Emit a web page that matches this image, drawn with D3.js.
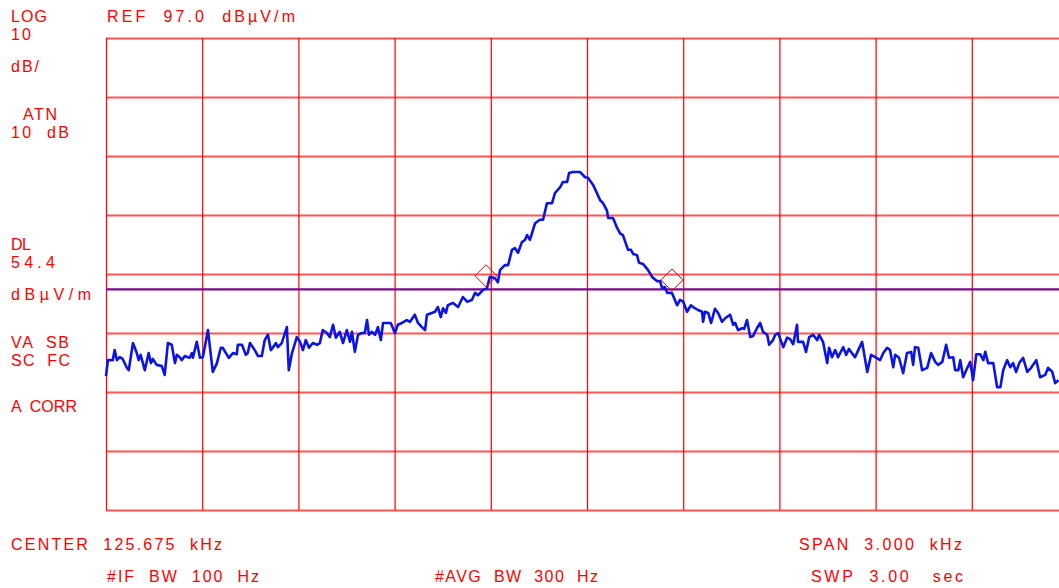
<!DOCTYPE html>
<html>
<head>
<meta charset="utf-8">
<script src="https://cdn.jsdelivr.net/npm/d3@7"></script>
<style>
  html, body { margin: 0; padding: 0; background: #fff; overflow: hidden; }
  svg text { font-family: "Liberation Sans", Arial, sans-serif; font-size: 16px; fill: #ff0000; }
</style>
</head>
<body>
<svg id="chart" width="1059" height="588"></svg>
<script>
// analyzer settings
var refLevel = 97.0, dbPerDiv = 10, vDivs = 8;
var centerKHz = 125.675, spanHz = 3000, hDivs = 10;
var displayLine = 54.4;

// trace: offset from center (Hz), level (dBuV/m)
var traceHz = [-1500,-1494,-1479,-1473,-1466,-1457,-1448,-1435,-1429,-1416,-1404,-1398,-1392,-1379,-1367,-1360,-1354,-1342,-1326,-1317,
  -1307,-1295,-1285,-1279,-1270,-1264,-1254,-1245,-1239,-1232,-1229,-1217,-1207,-1198,-1182,-1167,-1154,-1142,-1136,-1126,
  -1117,-1104,-1092,-1089,-1076,-1064,-1058,-1051,-1036,-1026,-1014,-1005,-995,-986,-980,-970,-964,-952,-936,-930,
  -920,-905,-895,-886,-877,-867,-855,-842,-833,-824,-811,-802,-792,-783,-771,-761,-749,-739,-733,-724,
  -714,-702,-693,-686,-680,-671,-661,-652,-643,-636,-624,-612,-599,-590,-577,-562,-552,-537,-527,-515,
  -505,-499,-484,-474,-465,-456,-449,-440,-434,-418,-402,-387,-374,-359,-349,-340,-324,-312,-303,-287,
  -278,-271,-256,-246,-234,-225,-215,-203,-193,-187,-178,-162,-147,-137,-125,-109,-100,-84,-75,-62,
  -56,-44,-22,-6,3,19,31,41,50,62,66,81,94,103,112,128,137,144,156,162,
  175,190,203,218,228,234,243,250,265,281,290,300,312,324,331,346,359,362,368,378,
  387,399,409,421,431,446,456,462,471,484,490,499,509,518,530,540,549,562,568,580,
  587,596,612,624,633,643,655,658,674,683,693,705,718,724,736,749,755,764,774,783,
  799,808,817,830,836,846,858,874,886,899,914,924,936,945,955,961,973,986,998,1011,
  1017,1023,1033,1045,1061,1073,1086,1095,1108,1120,1129,1142,1148,1158,1164,1173,1186,1195,1204,1214,
  1226,1236,1242,1251,1267,1279,1289,1298,1310,1320,1329,1338,1348,1360,1373,1385,1401,1413,1429,1438,
  1451,1460,1470];
var traceDb = [39.7,42.4,42.4,44.1,42.4,42.9,42.6,41.1,40.7,45.3,43.6,42.4,43.3,40.7,43.6,41.9,42.6,41.6,41.4,39.9,
  45.3,45.0,41.9,43.3,42.9,42.4,43.1,42.9,42.8,43.6,42.8,45.5,42.8,42.9,47.5,40.4,41.9,44.5,44.5,43.6,
  42.8,43.6,43.4,45.0,45.0,43.3,43.6,45.3,44.1,43.1,43.1,45.8,46.7,44.1,44.5,45.3,44.6,45.3,48.0,40.7,
  43.6,46.3,45.5,44.1,45.8,44.5,45.3,45.0,45.3,47.5,47.0,46.3,48.4,46.2,47.2,45.3,47.5,45.5,47.2,43.8,
  46.7,47.0,47.0,49.2,46.7,47.2,46.7,48.0,45.8,48.7,48.7,48.7,47.0,48.4,48.7,49.2,48.9,50.1,48.7,48.0,
  47.5,50.1,50.4,50.6,51.4,49.7,51.2,50.4,51.7,52.1,51.4,53.1,52.3,52.6,53.8,53.4,54.3,54.6,56.5,56.3,
  55.6,57.7,58.5,58.5,61.1,61.4,60.6,62.4,62.8,63.6,62.8,65.6,66.2,66.2,69.0,69.0,70.7,71.7,72.6,72.6,
  74.1,74.3,74.3,73.4,73.3,72.1,70.7,69.5,69.0,67.8,66.5,66.5,64.8,63.9,63.6,61.1,61.1,60.4,60.2,58.9,
  58.7,57.7,56.5,55.8,55.8,54.6,54.8,53.8,53.8,51.7,52.6,52.3,50.6,51.7,51.4,50.9,50.6,48.9,50.6,50.4,
  48.7,51.1,50.4,48.9,49.5,50.1,48.4,48.7,47.5,47.8,47.7,49.2,46.3,46.5,47.8,48.7,47.2,46.7,45.0,45.8,
  46.7,47.0,44.6,46.2,46.0,45.1,48.4,45.5,45.5,43.8,46.3,46.7,45.8,46.7,45.5,41.9,44.5,42.9,44.1,42.9,
  44.6,43.3,44.3,43.3,42.9,44.1,45.5,40.4,43.3,42.9,42.4,43.6,44.5,44.1,41.2,43.3,42.8,40.2,43.6,43.8,
  41.6,44.6,44.5,40.7,41.1,43.6,42.1,41.6,42.1,45.0,42.8,42.9,40.7,40.7,42.4,39.5,41.1,42.1,39.0,43.4,
  43.4,42.4,43.8,41.9,41.9,37.8,37.8,40.7,42.4,41.2,41.9,40.4,41.9,42.8,40.4,41.1,42.4,39.5,39.9,41.1,
  40.4,38.5,39.0];

// marker diamonds
var markerHz = [-315, 265];
var markerDb = [56.7, 56.0];

var svg = d3.select("#chart"),
    plotLeft = 106, plotTop = 38,
    plotWidth = 962, plotHeight = 472;

var x = d3.scaleLinear().domain([-spanHz / 2, spanHz / 2]).range([plotLeft, plotLeft + plotWidth]);
var y = d3.scaleLinear().domain([refLevel - dbPerDiv * vDivs, refLevel]).range([plotTop + plotHeight, plotTop]);

var gridHz = d3.range(hDivs + 1).map(function(i) { return -spanHz / 2 + i * spanHz / hDivs; });
var gridDb = d3.range(vDivs + 1).map(function(i) { return refLevel - i * dbPerDiv; });

// horizontal graticule
svg.append("g")
    .attr("class", "hgrid")
    .attr("transform", "translate(" + plotLeft + ",0)")
    .call(d3.axisLeft(y).tickValues(gridDb).tickSize(-plotWidth).tickFormat(""))
    .call(function(g) { g.select(".domain").remove(); })
    .selectAll("line")
      .attr("stroke", "#ff5555")
      .attr("stroke-width", 1.8);

// vertical graticule
svg.append("g")
    .attr("class", "vgrid")
    .attr("transform", "translate(0," + (plotTop + plotHeight) + ")")
    .call(d3.axisBottom(x).tickValues(gridHz).tickSize(-plotHeight).tickFormat(""))
    .call(function(g) { g.select(".domain").remove(); })
    .selectAll("line")
      .attr("stroke", "#ff0000")
      .attr("stroke-width", 1.2);

// display line
svg.append("line")
    .attr("x1", x(-spanHz / 2)).attr("x2", x(spanHz / 2))
    .attr("y1", y(displayLine)).attr("y2", y(displayLine))
    .attr("stroke", "#7a0a8a")
    .attr("stroke-width", 2.4);

// trace
var line = d3.line()
    .x(function(d) { return x(d[0]); })
    .y(function(d) { return y(d[1]); });

svg.append("path")
    .datum(d3.zip(traceHz, traceDb))
    .attr("fill", "none")
    .attr("stroke", "#0a14e6")
    .attr("stroke-width", 2.6)
    .attr("stroke-linejoin", "round")
    .attr("d", line);

// markers
var r = 11;
svg.selectAll(".marker")
    .data(d3.zip(markerHz, markerDb))
  .enter().append("path")
    .attr("class", "marker")
    .attr("fill", "none")
    .attr("stroke", "#ff0000")
    .attr("stroke-width", 1)
    .attr("d", function(d) {
      var cx = x(d[0]), cy = y(d[1]);
      return "M" + cx + "," + (cy - r) + "L" + (cx + r) + "," + cy + "L" + cx + "," + (cy + r) + "L" + (cx - r) + "," + cy + "Z";
    });

// annotation text (x, baseline, width in px)
var labels = [
  ["LOG", 11, 22, 36],
  ["10", 11, 40, 20],
  ["dB/", 11, 72, 28],
  ["ATN", 23, 120, 34],
  ["10  dB", 11, 138, 58],
  ["REF  97.0  dBµV/m", 107, 22, 188],
  ["DL", 11, 250, 20],
  ["54.4", 11, 268, 44],
  ["dBµV/m", 11, 300, 80],
  ["VA  SB", 11, 348, 58],
  ["SC  FC", 11, 366, 59],
  ["A  CORR", 11, 412, 66],
  ["CENTER  125.675  kHz", 11, 550, 211],
  ["SPAN  3.000  kHz", 799, 550, 163],
  ["#IF  BW  100  Hz", 107, 582, 152],
  ["#AVG  BW  300  Hz", 435, 582, 163],
  ["SWP  3.00   sec", 811, 582, 152]
];

svg.selectAll(".label")
    .data(labels)
  .enter().append("text")
    .attr("class", "label")
    .attr("x", function(d) { return d[1]; })
    .attr("y", function(d) { return d[2]; })
    .attr("textLength", function(d) { return d[3]; })
    .attr("lengthAdjust", "spacing")
    .attr("xml:space", "preserve")
    .style("white-space", "pre")
    .text(function(d) { return d[0]; });
</script>
</body>
</html>
